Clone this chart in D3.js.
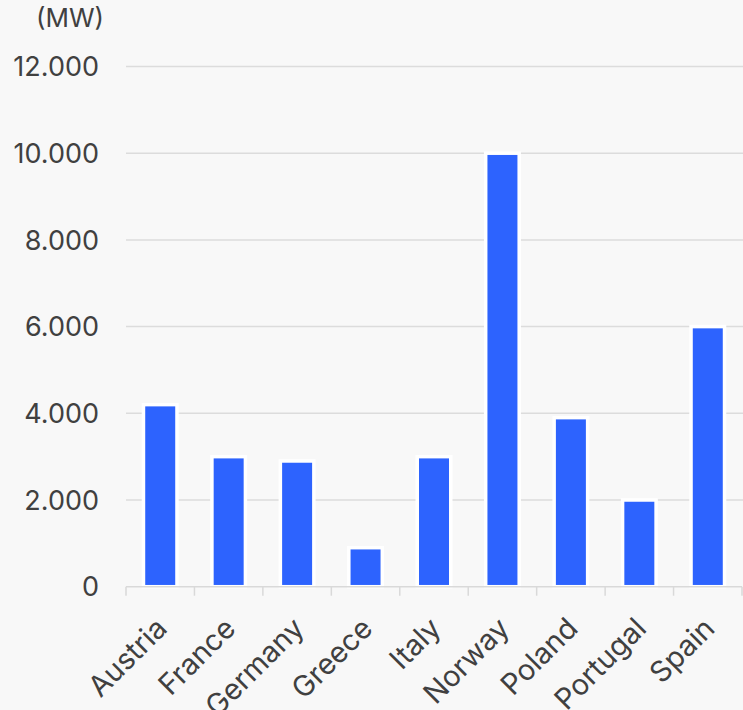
<!DOCTYPE html>
<html>
<head>
<meta charset="utf-8">
<script src="https://cdn.jsdelivr.net/npm/d3@7"></script>
<style>
  html, body { margin: 0; padding: 0; background: #f8f8f8; }
  svg { display: block; }
  text { font-family: Inter, "Noto Sans", sans-serif; fill: #404040; }
</style>
</head>
<body>
<svg id="chart" width="743" height="710"></svg>
<script>
// Installed capacity by country (MW)
const countries = ["Austria", "France", "Germany", "Greece", "Italy", "Norway", "Poland", "Portugal", "Spain"];
const capacityMW = [4200, 3000, 2900, 900, 3000, 10000, 3900, 2000, 6000];
const yTicks = [0, 2000, 4000, 6000, 8000, 10000, 12000];
const unitLabel = "(MW)";

const W = 743, H = 710;
const margin = { left: 126, right: 1, top: 66.5, bottom: 123.3 };

const svg = d3.select("#chart");

const xStep = d3.scaleBand().domain(countries).range([margin.left, W - margin.right]);

const y = d3.scaleLinear()
  .domain([0, 12000])
  .range([H - margin.bottom, margin.top]);

const fmt = v => d3.format(",")(v).replace(/,/g, ".");

// horizontal gridlines
svg.append("g")
  .selectAll("line")
  .data(yTicks.filter(d => d > 0))
  .join("line")
  .attr("x1", margin.left)
  .attr("x2", W)
  .attr("y1", d => y(d))
  .attr("y2", d => y(d))
  .attr("stroke", "#dcdcdc")
  .attr("stroke-width", 1.5);

// y tick labels
svg.append("g")
  .selectAll("text")
  .data(yTicks)
  .join("text")
  .attr("x", 99)
  .attr("y", d => y(d))
  .attr("dy", "0.36em")
  .attr("text-anchor", "end")
  .attr("font-size", 27)
  .text(d => fmt(d));

// unit label
svg.append("text")
  .attr("x", 104)
  .attr("y", 27)
  .attr("text-anchor", "end")
  .attr("font-size", 26)
  .text(unitLabel);

// bars
const barW = 33.5;
svg.append("g")
  .selectAll("rect")
  .data(countries.map((c, i) => ({ c, v: capacityMW[i] })))
  .join("rect")
  .attr("x", d => xStep(d.c) + xStep.bandwidth() / 2 - barW / 2)
  .attr("width", barW)
  .attr("y", d => y(d.v))
  .attr("height", d => y(0) - y(d.v))
  .attr("fill", "#2d63fe")
  .attr("stroke", "#ffffff")
  .attr("stroke-width", 3.5);

// x axis line and ticks
const axisG = svg.append("g");
axisG.append("line")
  .attr("x1", margin.left)
  .attr("x2", W - margin.right)
  .attr("y1", y(0))
  .attr("y2", y(0))
  .attr("stroke", "#d9d9d9")
  .attr("stroke-width", 1.5);
const tickPos = countries.map(c => xStep(c)).concat([W - margin.right]);
axisG.selectAll("line.tick")
  .data(tickPos)
  .join("line")
  .attr("class", "tick")
  .attr("x1", d => d)
  .attr("x2", d => d)
  .attr("y1", y(0))
  .attr("y2", y(0) + 9)
  .attr("stroke", "#d9d9d9")
  .attr("stroke-width", 1.5);

// rotated category labels
svg.append("g")
  .selectAll("text")
  .data(countries)
  .join("text")
  .attr("transform", c => `translate(${xStep(c) + xStep.bandwidth() / 2 - 6},${y(0) + 29}) rotate(-45)`)
  .attr("text-anchor", "end")
  .attr("dy", "0.71em")
  .attr("font-size", 29)
  .text(c => c);
</script>
</body>
</html>
